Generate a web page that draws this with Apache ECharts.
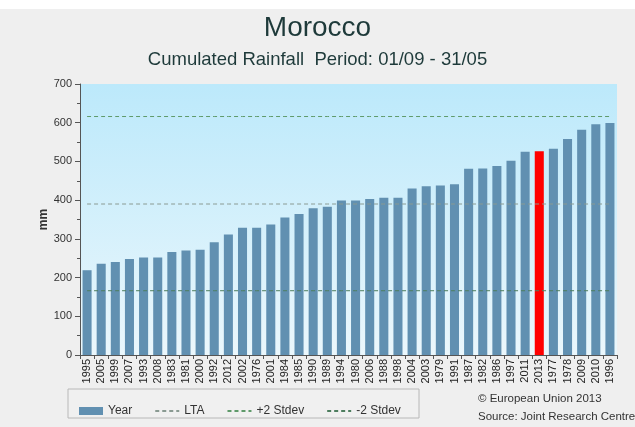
<!DOCTYPE html>
<html>
<head>
<meta charset="utf-8">
<script src="https://cdn.jsdelivr.net/npm/echarts@6/dist/echarts.min.js"></script>
<style>html,body{margin:0;padding:0;background:#efefef;}#c{width:635px;height:427px;}</style>
</head>
<body>
<div id="c"></div>
<script>
var years = ['1995','2005','1999','2007','1993','2008','1983','1981','2000','1992','2012','2002','1976','2001','1984','1985','1990','1989','1994','1980','2006','1988','1998','2004','2003','1979','1991','1987','1982','1986','1997','2011','2013','1977','1978','2009','2010','1996'];
var rainfall = [219,236,240,248,252,252,266,270,272,291,311,329,329,337,355,364,379,383,399,399,403,406,406,430,436,438,441,481,482,488,502,525,526,533,558,582,596,599];
var highlightYear = '2013';
var ltaValue = 390;
var plus2Value = 616;
var minus2Value = 166;
var yTicks = [0,100,200,300,400,500,600,700];

var barData = years.map(function(y, i){
  return y === highlightYear ? {value: rainfall[i], itemStyle:{color:'#ff0000'}} : rainfall[i];
});
function flat(v){ return years.map(function(){ return v; }); }
var FONT = '"Liberation Sans", Arial, sans-serif';

var chart = echarts.init(document.getElementById('c'));
chart.setOption({
  backgroundColor:'#efefef',
  animation:false,
  graphic:[
    {type:'rect', shape:{x:0,y:0,width:635,height:9}, style:{fill:'#ffffff'}, z:-10},
    {type:'text', left:478, top:393, style:{text:'© European Union 2013', fill:'#333', font:'11.5px ' + FONT}},
    {type:'text', left:478, top:411, style:{text:'Source: Joint Research Centre', fill:'#333', font:'11.5px ' + FONT}},
    {type:'rect', shape:{x:68,y:389,width:351,height:29}, style:{fill:'#f0f0f0', stroke:'#b8b8b8', lineWidth:1}, z:-1}
  ],
  title:{
    text:'Morocco',
    subtext:'Cumulated Rainfall  Period: 01/09 - 31/05',
    left:'center', top:9, itemGap:8,
    textStyle:{fontSize:28, fontWeight:'normal', color:'#1e3a3a', fontFamily:FONT},
    subtextStyle:{fontSize:18.5, color:'#1e3a3a', fontFamily:FONT}
  },
  legend:{
    left:74, top:400, itemWidth:24, itemHeight:8, itemGap:22,
    textStyle:{fontSize:12, color:'#333', fontFamily:FONT},
    data:[
      {name:'Year', icon:'rect'},
      {name:'LTA', itemStyle:{opacity:0}},
      {name:'+2 Stdev', itemStyle:{opacity:0}},
      {name:'-2 Stdev', itemStyle:{opacity:0}}
    ]
  },
  grid:{left:80, right:18, top:84, bottom:72, show:true, borderWidth:0,
    backgroundColor: new echarts.graphic.LinearGradient(0,0,0,1,[{offset:0,color:'#bce9fb'},{offset:1,color:'#ebf7fc'}])},
  xAxis:{
    type:'category', data:years,
    axisLine:{lineStyle:{color:'#555'}},
    axisTick:{show:true, length:4, lineStyle:{color:'#555'}},
    axisLabel:{rotate:90, interval:0, fontSize:11, color:'#222', margin:4, fontFamily:FONT}
  },
  yAxis:{
    type:'value', min:yTicks[0], max:yTicks[yTicks.length-1], interval:100,
    name:'mm', nameLocation:'middle', nameGap:30, nameRotate:90, nameMoveOverlap:false,
    nameTextStyle:{fontSize:12, fontWeight:'bold', color:'#333', fontFamily:FONT},
    axisLine:{show:true, lineStyle:{color:'#555'}},
    axisTick:{show:true, length:5, lineStyle:{color:'#555'}},
    minorTick:{show:true, splitNumber:2, length:3, lineStyle:{color:'#555'}},
    splitLine:{show:false},
    axisLabel:{fontSize:11, color:'#333', margin:8, fontFamily:FONT}
  },
  series:[
    {name:'Year', type:'bar', data:barData, barCategoryGap:'36%', itemStyle:{color:'#6190b1'}},
    {name:'LTA', type:'line', data:flat(ltaValue), symbol:'none', lineStyle:{color:'#8a9a92', width:1, type:[4,3]}, itemStyle:{color:'#8a9a92'}, z:3},
    {name:'+2 Stdev', type:'line', data:flat(plus2Value), symbol:'none', lineStyle:{color:'#5f9a6a', width:1, type:[4,3]}, itemStyle:{color:'#5f9a6a'}, z:3},
    {name:'-2 Stdev', type:'line', data:flat(minus2Value), symbol:'none', lineStyle:{color:'#4d7d5e', width:1, type:[4,3]}, itemStyle:{color:'#4d7d5e'}, z:3}
  ]
});
</script>
</body>
</html>
